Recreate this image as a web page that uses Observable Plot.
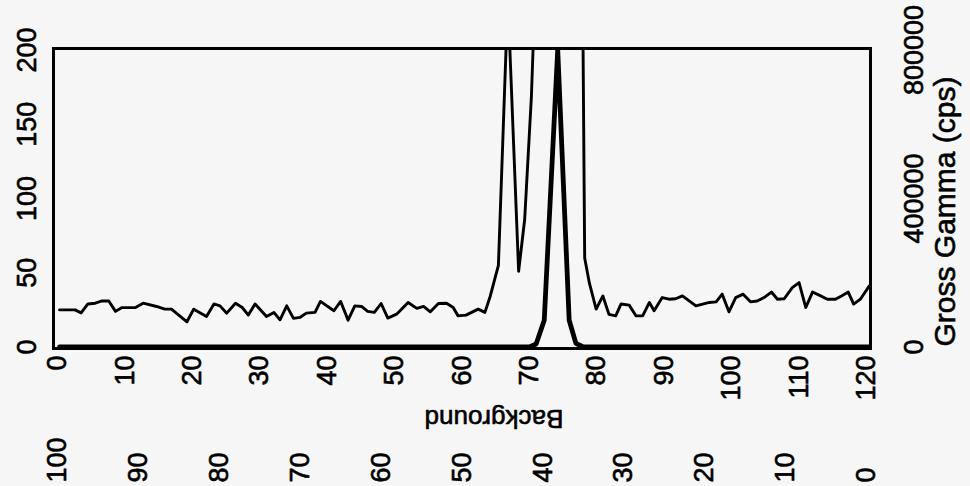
<!DOCTYPE html>
<html><head><meta charset="utf-8">
<script src="https://cdn.jsdelivr.net/npm/d3@7"></script>
<script src="https://cdn.jsdelivr.net/npm/@observablehq/plot@0.6"></script>
<style>
html,body{margin:0;padding:0;background:#f6f6f6;}
#chart svg{display:block;}
</style></head><body><div id="chart"></div>
<script>
// Background counts (thin line): position and counts
const bgX = [0.3, 2.6, 3.5, 4.5, 5.6, 6.6, 7.6, 8.6, 9.5, 11.5, 12.7, 14.7, 15.9, 16.9, 19.2, 20.2, 22.1, 23.2, 24.1, 25.1, 26.4, 27.4, 28.3, 29.3, 31.0, 32.1, 33.0, 34.0, 35.0, 36.0, 36.9, 38.2, 39.0, 41.0, 42.0, 43.1, 44.1, 45.1, 46.0, 47.0, 48.0, 49.0, 50.3, 52.0, 53.3, 54.3, 55.3, 56.5, 57.7, 58.7, 59.4, 60.6, 62.4, 63.4, 64.2, 65.4, 66.8, 68.4, 69.3, 70.3, 71.3, 72.3, 74.3, 76.2, 77.2, 78.2, 78.9, 79.9, 80.9, 81.8, 82.8, 83.6, 84.8, 85.8, 86.8, 87.8, 88.5, 89.7, 90.7, 91.7, 92.7, 94.7, 95.7, 96.7, 97.7, 98.6, 99.6, 100.6, 101.7, 102.8, 103.8, 104.8, 105.9, 106.8, 107.8, 109.0, 110.0, 111.0, 112.0, 113.2, 114.2, 115.4, 116.3, 117.3, 118.1, 119.1, 120.4];
const bgCounts = [25, 25, 23, 29, 29.5, 31, 31, 24, 26.5, 26.5, 29.5, 27.3, 25.5, 25.5, 17, 25.5, 20.6, 29, 27.7, 22.8, 29.5, 26.6, 21.5, 29, 20.6, 23.3, 18.3, 27.7, 19.3, 20, 22.8, 23.3, 30.7, 24.4, 30.7, 18.1, 27.7, 27.3, 24, 23.3, 29.3, 19.5, 22.1, 30, 26, 27.3, 23.7, 29.3, 29.5, 26.6, 21, 21.5, 25.5, 23.3, 34.4, 55, 235, 51, 86, 169, 300, 1200, 2500, 1500, 650, 60, 43, 25.5, 34.4, 22, 21, 29, 28.2, 21, 21, 30, 24.4, 33.3, 32.2, 32.5, 34.4, 27.7, 28.9, 30, 30.4, 35.6, 23.7, 33.3, 35.6, 30.4, 31, 33.3, 37, 32.2, 32.5, 40, 43.4, 26.6, 37, 34.4, 32.2, 32.2, 34.4, 37, 28.9, 32.2, 41];

// Gross gamma (thick line), cps
const gammaX = [0.3, 70.0, 71.0, 72.2, 74.2, 75.9, 76.9, 78.0, 120.4];
const gammaCps = [0, 0, 8000, 72000, 800000, 72000, 10000, 0, 0];

// Axes
const xTicks = [0, 10, 20, 30, 40, 50, 60, 70, 80, 90, 100, 110, 120];
const bgTicks = [100, 90, 80, 70, 60, 50, 40, 30, 20, 10, 0];
const yTicks = [0, 50, 100, 150, 200];
const gammaTicks = [0, 400000, 800000];
const xMax = 120, bgMax = 100, countMax = 200, gammaMax = 800000;
const rightTitle = "Gross Gamma (cps)";
const bottomTitle = "Background";

const bg = bgX.map((x, i) => ({x, y: bgCounts[i]}));
const gamma = gammaX.map((x, i) => ({x, y: gammaCps[i] * countMax / gammaMax}));

const font = "'Liberation Sans', Arial, Helvetica, sans-serif";
const ink = {fill: "black", stroke: "black", strokeWidth: 0.6};
const chart = Plot.plot({
  width: 970, height: 486,
  marginLeft: 53, marginRight: 100, marginTop: 48, marginBottom: 138,
  x: {domain: [-0.6, 120.6], axis: null},
  y: {domain: [-1, 201], axis: null},
  style: {background: "#f6f6f6", fontFamily: font, color: "black", overflow: "visible"},
  marks: [
    Plot.line(bg, {x: "x", y: "y", stroke: "black", strokeWidth: 2.9, clip: true}),
    Plot.line(gamma, {x: "x", y: "y", stroke: "black", strokeWidth: 4.8, clip: true}),
    Plot.frame({stroke: "black", strokeWidth: 3}),
    // left axis labels
    Plot.text(yTicks, {y: d => d, text: d => String(d), frameAnchor: "left", dx: -26,
      rotate: -90, textAnchor: "middle", lineAnchor: "middle", fontSize: 27, ...ink}),
    // right axis labels
    Plot.text(gammaTicks, {y: d => d * countMax / gammaMax, text: d => String(d), frameAnchor: "right", dx: 44,
      rotate: -90, textAnchor: "middle", lineAnchor: "middle", fontSize: 27, ...ink}),
    Plot.text([rightTitle], {text: d => d, frameAnchor: "right", dx: 75, dy: 13,
      rotate: -90, textAnchor: "middle", lineAnchor: "middle", fontSize: 30, ...ink}),
    // bottom axis labels
    Plot.text(xTicks, {x: d => d, text: d => String(d), frameAnchor: "bottom", dy: 7,
      rotate: -90, textAnchor: "end", lineAnchor: "middle", fontSize: 27, ...ink}),
    // secondary background axis (reversed)
    Plot.text(bgTicks, {x: d => (bgMax - d) * xMax / bgMax, text: d => String(d), frameAnchor: "bottom", dy: 134,
      rotate: -90, textAnchor: "start", lineAnchor: "middle", fontSize: 27, ...ink}),
    Plot.text([bottomTitle], {text: d => d, frameAnchor: "bottom", dx: 32, dy: 70,
      rotate: 180, textAnchor: "middle", lineAnchor: "middle", fontSize: 26, ...ink})
  ]
});
document.getElementById("chart").appendChild(chart);
</script></body></html>
